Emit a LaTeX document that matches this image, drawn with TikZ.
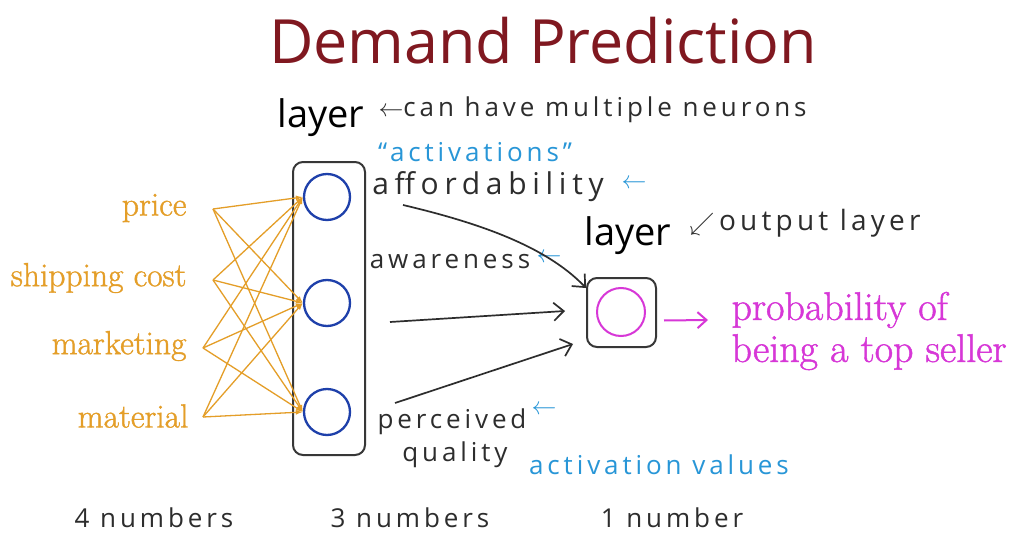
\documentclass[tikz,border=0pt]{standalone}
\usepackage{fontspec}
\newfontfamily\titlefont{Open Sans}
\newfontfamily\hand[LetterSpace=15]{Open Sans}
\newfontfamily\handwide[LetterSpace=19]{Open Sans}
\newfontfamily\heavyserif[FakeBold=1.2]{Latin Modern Roman}
\usetikzlibrary{arrows.meta}

\definecolor{titlered}{RGB}{128,24,32}
\definecolor{inorange}{RGB}{228,158,40}
\definecolor{neuronblue}{RGB}{30,64,170}
\definecolor{noteblue}{RGB}{40,150,215}
\definecolor{outmag}{RGB}{215,55,215}
\definecolor{boxgray}{RGB}{55,55,55}
\definecolor{pen}{RGB}{45,45,45}

\tikzset{
  title/.style={font=\titlefont\fontsize{61}{61}\selectfont, text=titlered},
  layerlbl/.style={font=\titlefont\fontsize{38}{38}\selectfont, text=black},
  inlabel/.style={font=\heavyserif\fontsize{33.5}{33.5}\selectfont, text=inorange, anchor=east},
  outtxt/.style={font=\heavyserif\fontsize{40}{42}\selectfont, text=outmag, align=left},
  handtxt/.style={font=\hand\fontsize{26}{26}\selectfont, text=pen},
  note/.style={handtxt, text=noteblue},
  tick/.style={font=\fontsize{26}{26}\selectfont, text=noteblue},
  neuron/.style={circle, draw=neuronblue, line width=2.3pt, minimum size=46pt, inner sep=0pt},
  outneuron/.style={circle, draw=outmag, line width=2pt, minimum size=48pt, inner sep=0pt},
  layerbox/.style={draw=boxgray, line width=2pt, rounded corners=10pt, inner sep=0pt},
  wire/.style={draw=inorange, line width=1.3pt, -{Latex[length=7pt,width=5pt]}},
  penarrow/.style={draw=pen, line width=1.7pt, -{Straight Barb[length=10pt,width=18pt]}},
  outarrow/.style={draw=outmag, line width=2pt, -{Straight Barb[length=9pt,width=16pt]}},
}

\begin{document}
\begin{tikzpicture}[x=1pt,y=-1pt]
\path[use as bounding box, fill=white] (0,0) rectangle (1015,535);

% title
\node[title] (title) at (543,41) {Demand Prediction};

% hidden layer
\node[layerlbl] (lay1) at (321,118) {layer};
\node[handtxt, anchor=west] (multi) at (375,110) {$\leftarrow$can have multiple neurons};
\node[layerbox, minimum width=72pt, minimum height=293pt] (hbox) at (329,308.5) {};
\node[neuron] (h1) at (327,197) {};
\node[neuron] (h2) at (327,303) {};
\node[neuron] (h3) at (327,412) {};

% inputs
\node[inlabel] (price) at (190,208) {price};
\node[inlabel] (ship)  at (190,278) {shipping cost};
\node[inlabel] (mkt)   at (190,346) {marketing};
\node[inlabel] (mat)   at (192,416) {material};
\coordinate (i1) at (213,209);
\coordinate (i2) at (213,280);
\coordinate (i3) at (203,348);
\coordinate (i4) at (203,417);
\foreach \s in {i1,i2,i3,i4}
  \foreach \t in {h1,h2,h3}
    \draw[wire] (\s) -- (\t.west);

% activations
\node[note] (actq) at (475,152) {“activations”};
\node[handtxt, font=\handwide\fontsize{30}{30}\selectfont] (aff) at (488,187) {affordability};
\node[tick] (affm) at (634,184) {$\leftarrow$};
\node[handtxt] (awa) at (450,262) {awareness};
\node[tick] (awam) at (549,258) {$\leftarrow$};
\node[handtxt] (per) at (452,422) {perceived};
\node[tick] (perm) at (544,410) {$\leftarrow$};
\node[handtxt] (qua) at (455,455) {quality};
\node[note] (actv) at (659,465) {activation values};

% output layer
\node[layerlbl] (lay2) at (628,236) {layer};
\node[handtxt, anchor=west, font=\hand\fontsize{28}{28}\selectfont] (outl) at (686,223) {$\swarrow$\,output layer};
\node[layerbox, minimum size=69pt] (obox) at (621.5,312.5) {};
\node[outneuron] (o) at (621,312) {};

% activations into the output neuron
\coordinate (a1s) at (403,205);
\coordinate (a1e) at (586,288);
\coordinate (a2s) at (390,322);
\coordinate (a2e) at (565,311);
\coordinate (a3s) at (395,403);
\coordinate (a3e) at (573,344);
\draw[penarrow] (a1s) .. controls (475,222) and (545,245) .. (a1e);
\draw[penarrow] (a2s) -- (a2e);
\draw[penarrow] (a3s) -- (a3e);

% prediction
\node[outtxt, anchor=west] (prob) at (728,331) {probability of\\being a top seller};
\coordinate (probtip) at (708,320);
\draw[outarrow] ([shift={(7,8)}]obox.east) -- (probtip);

% counts
\node[handtxt] (n4) at (154,518) {4 numbers};
\node[handtxt] (n3) at (410,518) {3 numbers};
\node[handtxt] (n1) at (672,518) {1 number};
\end{tikzpicture}
\end{document}
